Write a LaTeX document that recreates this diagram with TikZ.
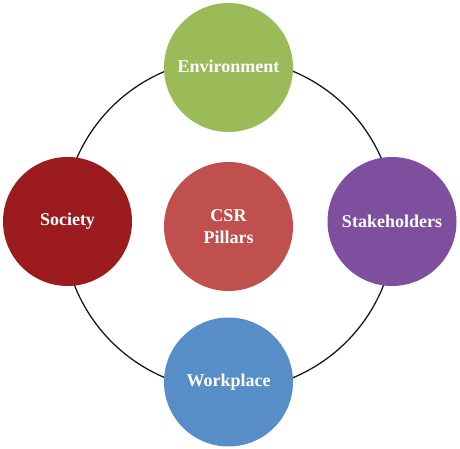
\documentclass[tikz,border=0pt]{standalone}
\usepackage{fontspec}
\setmainfont{Liberation Serif}
\definecolor{envgreen}{RGB}{155,187,89}
\definecolor{socred}{RGB}{155,27,31}
\definecolor{stkpurple}{RGB}{127,79,159}
\definecolor{csrred}{RGB}{192,80,77}
\definecolor{wpblue}{RGB}{88,142,200}
\begin{document}
\begin{tikzpicture}[x=1pt,y=1pt,
  pillar/.style={circle,minimum size=129pt,inner sep=0pt,text=white,
    font=\fontsize{18}{21.5}\selectfont\bfseries,align=center},
  ring/.style={draw=black!90,line width=1.3pt}]
\useasboundingbox (0,0) rectangle (460,449);
\coordinate (rc) at (229,224.5);
\draw[ring] (rc) circle[radius=166];
\node[pillar,fill=envgreen] (env) at (228.5,381.5) {\raisebox{3pt}{Environment}};
\node[pillar,fill=socred] (soc) at (67.5,227.5) {Society};
\node[pillar,fill=stkpurple] (stk) at (392,227.5) {Stakeholders};
\node[pillar,fill=csrred] (csr) at (228.5,222.5) {CSR\\Pillars};
\node[pillar,fill=wpblue] (wp) at (228.5,67) {\raisebox{-2pt}{Workplace}};
\end{tikzpicture}
\end{document}
